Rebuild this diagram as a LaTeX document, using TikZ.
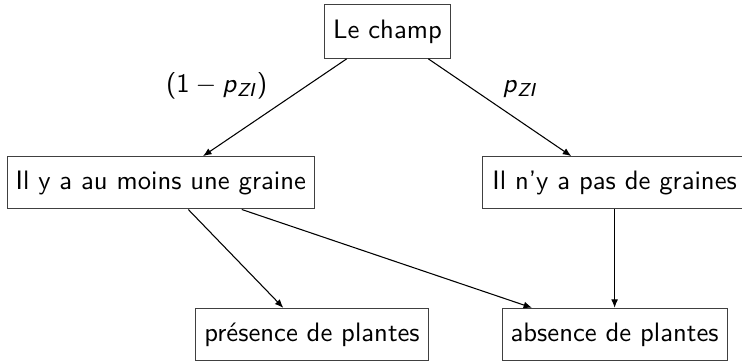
\documentclass[tikz,border=0pt]{standalone}
\usepackage{fontspec}
\usetikzlibrary{arrows.meta}
\begin{document}
\begin{tikzpicture}[x=0.375pt,y=-0.375pt,
  box/.style={draw=black!75, line width=0.4pt, inner sep=0pt, font=\sffamily},
  arr/.style={-{Latex[length=3.2pt,width=2.6pt]}, line width=0.4pt},
  lab/.style={font=\sffamily, anchor=base}]
\useasboundingbox (0,0) rectangle (742,360);
\node[box, minimum width=126.4*0.375pt, minimum height=53.6*0.375pt] (champ) at (387.5,31.5) {Le champ};
\node[box, minimum width=307*0.375pt, minimum height=52.3*0.375pt] (gauche) at (160.8,182.8) {Il y a au moins une graine};
\node[box, minimum width=263.4*0.375pt, minimum height=52.3*0.375pt] (droite) at (614.6,182.8) {Il n'y a pas de graines};
\node[box, minimum width=232.6*0.375pt, minimum height=52.3*0.375pt] (pres) at (312,334.5) {présence de plantes};
\node[box, minimum width=225*0.375pt, minimum height=52.3*0.375pt] (abs) at (614.6,334.5) {absence de plantes};
\node[lab] (l1) at (216.7,92.5) {(1$\mkern4mu-\mkern4mu$\textit{p}\textsubscript{\textit{ZI}})};
\node[lab] (l2) at (520,92.5) {\textit{p}\textsubscript{\textit{ZI}}};
\draw[arr] ([xshift=-40.8*0.375pt]champ.south) -- ([xshift=42.2*0.375pt]gauche.north);
\draw[arr] ([xshift=40.8*0.375pt]champ.south) -- ([xshift=-43.3*0.375pt]droite.north);
\draw[arr] ([xshift=27.5*0.375pt]gauche.south) -- ([xshift=-28.7*0.375pt]pres.north);
\draw[arr] ([xshift=81*0.375pt]gauche.south) -- ([xshift=-82.5*0.375pt]abs.north);
\draw[arr] (droite.south) -- (abs.north);
\end{tikzpicture}
\end{document}
